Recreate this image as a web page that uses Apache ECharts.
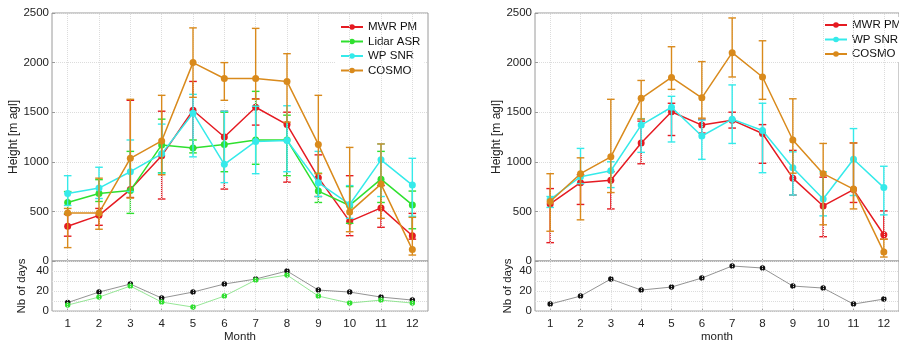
<!DOCTYPE html>
<html>
<head>
<meta charset="utf-8">
<script src="https://cdn.jsdelivr.net/npm/echarts@6/dist/echarts.min.js"></script>
<style>html,body{margin:0;padding:0;background:#fff;}#c{width:899px;height:344px;}</style>
</head>
<body>
<div id="c"></div>
<script>
const months = [1,2,3,4,5,6,7,8,9,10,11,12];
const heightTicks = [0,500,1000,1500,2000,2500];
const dayTicks = [0,20,40];

// Left panel (height, lower/upper error ends)
const L_mwr    = [350,460,720,1060,1520,1250,1550,1375,840,400,535,255];
const L_mwr_lo = [250,360,640,625,1140,725,1370,795,650,255,340,220];
const L_mwr_hi = [470,530,1620,1510,1810,1510,1635,1500,1070,860,760,480];
const L_lid    = [590,680,710,1170,1140,1175,1220,1220,705,560,825,565];
const L_lid_lo = [480,600,480,890,1090,900,975,860,590,380,590,325];
const L_lid_hi = [700,820,1105,1430,1220,1500,1710,1470,885,750,1105,705];
const L_wp     = [680,735,900,1080,1490,975,1205,1215,790,570,1020,765];
const L_wp_lo  = [560,630,700,885,1050,790,880,900,650,430,650,450];
const L_wp_hi  = [860,945,1220,1380,1680,1510,1560,1565,1105,760,1180,1035];
const L_cos    = [485,485,1035,1210,2000,1840,1840,1810,1175,495,775,115];
const L_cos_lo = [135,320,635,870,1650,1620,1630,1400,880,295,430,60];
const L_cos_hi = [530,835,1630,1670,2350,2000,2345,2090,1670,1145,1180,440];
const L_days_all   = [8.5,19,27,13,19,27,32,40,21,19,14,11];
const L_days_lidar = [6,14,25,9,4,15,31,36,15,8,11,8];

// Right panel
const R_mwr    = [575,790,815,1190,1505,1370,1420,1285,835,555,720,265];
const R_mwr_lo = [185,570,525,980,1265,1290,1340,985,665,245,590,220];
const R_mwr_hi = [730,870,900,1410,1590,1430,1500,1375,1115,845,1190,505];
const R_wp     = [620,850,910,1370,1550,1260,1430,1315,940,625,1025,740];
const R_wp_lo  = [540,780,740,1095,1200,1025,1185,890,665,455,660,465];
const R_wp_hi  = [650,1135,1000,1435,1660,1420,1775,1590,1100,900,1335,955];
const R_cos    = [600,880,1050,1640,1850,1645,2100,1855,1220,880,725,90];
const R_cos_lo = [300,415,690,1430,1730,1440,1855,1630,885,365,525,40];
const R_cos_hi = [880,1040,1630,1820,2160,2010,2450,2220,1635,1185,1190,220];
const R_days   = [7,15,32,21,24,33,45,43,25,23,7,12];

const C_RED = '#e51b22', C_GREEN = '#2fe02f', C_CYAN = '#35eaea', C_ORANGE = '#d98a1c';
const FONT = 'Liberation Sans, Arial, sans-serif';
const FRAME = '#9a9a9a', GRIDC = '#dcdcdc';

const pts = v => months.map((m,i)=>[m, v[i]]);
const errs = (lo,hi) => months.map((m,i)=>[m, lo[i], hi[i]]);

function errSeries(idx, lo, hi, color, z){
  return {
    type:'custom', xAxisIndex:idx, yAxisIndex:idx, z:z, silent:true,
    encode:{x:0, y:[1,2]},
    data: errs(lo,hi),
    renderItem:function(params, api){
      const x = api.value(0);
      const a = api.coord([x, api.value(1)]);
      const b = api.coord([x, api.value(2)]);
      const w = 3.8;
      const st = {stroke:color, lineWidth:1.4};
      return {type:'group', children:[
        {type:'line', shape:{x1:a[0],y1:a[1],x2:b[0],y2:b[1]}, style:st},
        {type:'line', shape:{x1:a[0]-w,y1:a[1],x2:a[0]+w,y2:a[1]}, style:st},
        {type:'line', shape:{x1:b[0]-w,y1:b[1],x2:b[0]+w,y2:b[1]}, style:st}
      ]};
    }
  };
}
function lineSeries(idx, name, vals, color, z, size, lw, lineColor){
  return {
    type:'line', name:name, xAxisIndex:idx, yAxisIndex:idx, z:z,
    data: pts(vals), symbol:'circle', symbolSize:size, showSymbol:true,
    itemStyle:{color:color, borderWidth:0}, lineStyle:{color:lineColor||color, width:lw},
    emphasis:{disabled:true}
  };
}
function gridLines(idx){
  return {
    type:'line', xAxisIndex:idx, yAxisIndex:idx, z:1, data:[], silent:true,
    markLine:{silent:true, symbol:['none','none'], label:{show:false}, animation:false,
      lineStyle:{type:'dotted', color:GRIDC, width:1},
      data: months.map(m=>({xAxis:m}))}
  };
}

const grids = [
  {left:52, top:13, width:376, height:248},
  {left:52, top:261, width:376, height:56},
  {left:535, top:13, width:376, height:248},
  {left:535, top:261, width:376, height:56}
];

function xAxis(idx, showLabels, name){
  return {
    type:'value', gridIndex:idx, min:0.5, max:12.5,
    axisLine:{show:false},
    axisTick:{show:true, inside:true, length:3, lineStyle:{color:FRAME}, customValues:months},
    axisLabel:{show:showLabels, customValues:months, color:'#222', fontFamily:FONT, fontSize:11.5, margin:7},
    splitLine:{show:false},
    name: name||'', nameLocation:'middle', nameGap:19,
    nameTextStyle:{color:'#222', fontFamily:FONT, fontSize:11.5}
  };
}
function yAxisTop(idx, gap){
  return {
    type:'value', gridIndex:idx, min:0, max:2500, interval:500,
    axisLine:{show:false},
    axisTick:{show:true, inside:true, length:3, lineStyle:{color:FRAME}},
    axisLabel:{color:'#222', fontFamily:FONT, fontSize:11.5, margin:3,
      formatter:v=>heightTicks.indexOf(v)>=0?String(v):''},
    splitLine:{show:true, lineStyle:{type:'dotted', color:GRIDC}},
    name:'Height [m agl]', nameLocation:'middle', nameGap:gap, nameRotate:90,
    nameTextStyle:{color:'#222', fontFamily:FONT, fontSize:12}
  };
}
function yAxisBot(idx, gap){
  return {
    type:'value', gridIndex:idx, min:0, max:50, interval:10,
    axisLine:{show:false},
    axisTick:{show:false},
    axisLabel:{color:'#222', fontFamily:FONT, fontSize:11.5, margin:3,
      formatter:v=>dayTicks.indexOf(v)>=0?String(v):''},
    splitLine:{show:true, lineStyle:{type:'dotted', color:GRIDC}},
    name:'Nb of days', nameLocation:'middle', nameGap:gap, nameRotate:90,
    nameTextStyle:{color:'#222', fontFamily:FONT, fontSize:11.5}
  };
}

const legendCommon = {
  orient:'vertical', padding:[2,4,2,4], itemWidth:22, itemHeight:7, itemGap:2.5,
  backgroundColor:'#fff', selectedMode:false,
  textStyle:{color:'#111', fontFamily:FONT, fontSize:11.5, lineHeight:12}
};

const option = {
  animation:false,
  backgroundColor:'#fff',
  grid: grids.map(g=>Object.assign({show:true, borderColor:FRAME, borderWidth:1, backgroundColor:'transparent'}, g)),
  xAxis:[xAxis(0,false), xAxis(1,true,'Month'), xAxis(2,false), xAxis(3,true,'month')],
  yAxis:[yAxisTop(0,29), yAxisBot(1,24), yAxisTop(2,30), yAxisBot(3,21)],
  legend:[
    Object.assign({left:336, top:19, data:['MWR PM','Lidar ASR','WP SNR','COSMO']}, legendCommon),
    Object.assign({left:820, top:17, data:['MWR PM','WP SNR','COSMO']}, legendCommon)
  ],
  series:[
    gridLines(0), gridLines(1), gridLines(2), gridLines(3),
    // left top
    errSeries(0, L_mwr_lo, L_mwr_hi, C_RED, 2),
    lineSeries(0, 'MWR PM', L_mwr, C_RED, 3, 7, 1.5),
    errSeries(0, L_lid_lo, L_lid_hi, C_GREEN, 4),
    lineSeries(0, 'Lidar ASR', L_lid, C_GREEN, 5, 7, 1.5),
    errSeries(0, L_wp_lo, L_wp_hi, C_CYAN, 6),
    lineSeries(0, 'WP SNR', L_wp, C_CYAN, 7, 7, 1.5),
    errSeries(0, L_cos_lo, L_cos_hi, C_ORANGE, 8),
    lineSeries(0, 'COSMO', L_cos, C_ORANGE, 9, 7, 1.5),
    // left bottom
    lineSeries(1, 'all days', L_days_all, '#111', 3, 5.5, 0.8, '#777'),
    lineSeries(1, 'lidar days', L_days_lidar, C_GREEN, 4, 5.5, 0.8, '#7be07b'),
    // right top
    errSeries(2, R_mwr_lo, R_mwr_hi, C_RED, 2),
    lineSeries(2, 'MWR PM', R_mwr, C_RED, 3, 7, 1.5),
    errSeries(2, R_wp_lo, R_wp_hi, C_CYAN, 6),
    lineSeries(2, 'WP SNR', R_wp, C_CYAN, 7, 7, 1.5),
    errSeries(2, R_cos_lo, R_cos_hi, C_ORANGE, 8),
    lineSeries(2, 'COSMO', R_cos, C_ORANGE, 9, 7, 1.5),
    // right bottom
    lineSeries(3, 'days', R_days, '#111', 3, 5.5, 0.8, '#777')
  ]
};

const chart = echarts.init(document.getElementById('c'), null, {renderer:'canvas'});
chart.setOption(option);
</script>
</body>
</html>
